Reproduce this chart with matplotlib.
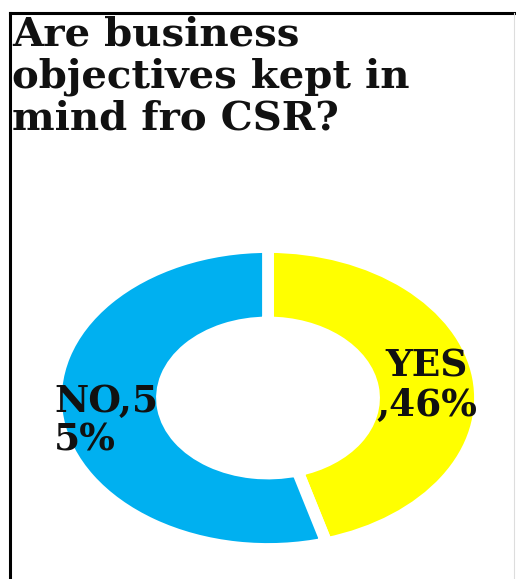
import matplotlib
matplotlib.use("Agg")
import matplotlib.pyplot as plt
from matplotlib.lines import Line2D

# survey answers
categories = ["YES", "NO"]
shares = [46, 55]
colors = ["#FFFF00", "#00B0F0"]
# where the data label wraps onto a second line
label_breaks = [3, 4]

title = "Are business\nobjectives kept in\nmind fro CSR?"

W, H = 516, 579
fig = plt.figure(figsize=(W / 100, H / 100), dpi=100)
fig.patch.set_facecolor("white")

# frame: top and left edges only
fig.add_artist(Line2D([10 / W, 1], [1 - 13 / H, 1 - 13 / H], color="black", lw=2.2))
fig.add_artist(Line2D([10 / W, 10 / W], [0, 1 - 13 / H], color="black", lw=2.2))
fig.add_artist(Line2D([514 / W, 514 / W], [0, 1 - 13 / H], color="#dddddd", lw=0.8))

fig.text(12 / W, 1 - 16 / H, title, ha="left", va="top", fontsize=29,
         fontweight="bold", family="DejaVu Serif", color="#111111",
         linespacing=1.12)

# donut area (stretched wider than tall)
cx, cy, rx, ry = 268, 398, 212, 151
ax = fig.add_axes([(cx - rx) / W, (H - cy - ry) / H, 2 * rx / W, 2 * ry / H])
ax.pie(shares, colors=colors, startangle=90, counterclock=False,
       wedgeprops=dict(width=0.5, edgecolor="white", linewidth=8.5))
ax.set_aspect("auto")
ax.set_xlim(-1, 1)
ax.set_ylim(-1, 1)
ax.axis("off")

# data labels
label_pos = [(0.75, 0.08, "center"), (-1.01, -0.15, "left")]
for cat, val, brk, (lx, ly, ha) in zip(categories, shares, label_breaks, label_pos):
    txt = f"{cat},{val}%"
    txt = txt[:brk] + "\n" + txt[brk:]
    ax.text(lx, ly, txt, ha=ha, va="center", fontsize=27, fontweight="bold",
            family="DejaVu Serif", color="#111111", linespacing=1.08,
            multialignment="center" if ha == "center" else "left")

fig.savefig("out.png", dpi=100, facecolor="white")
